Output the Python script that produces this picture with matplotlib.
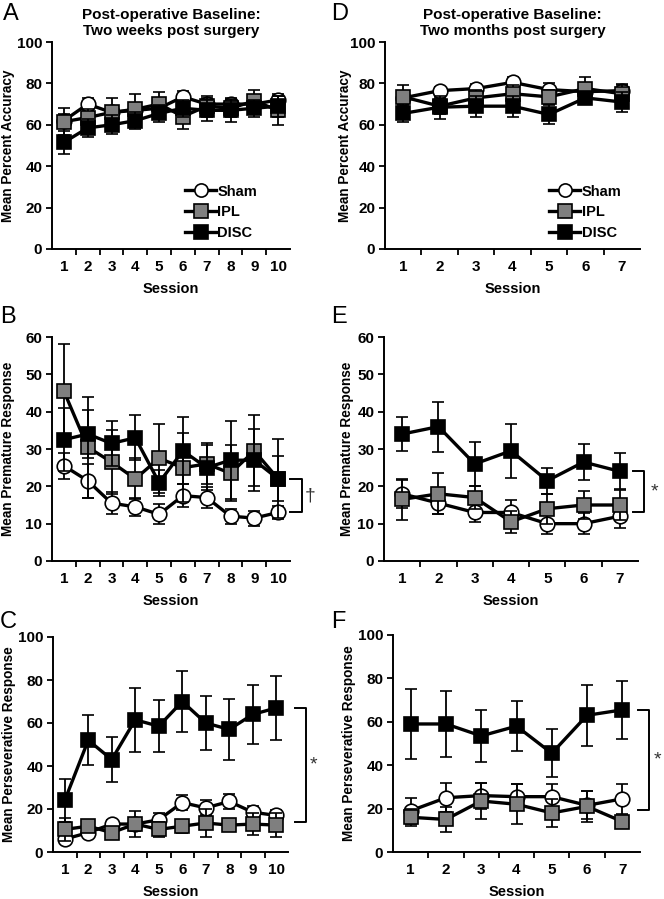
import matplotlib
matplotlib.use("Agg")
import matplotlib.pyplot as plt
from matplotlib.lines import Line2D

plt.rcParams['font.family'] = ['Liberation Sans', 'DejaVu Sans']

# ---------------- data ----------------
groups = ["Sham", "IPL", "DISC"]

# Panel A: accuracy, two weeks (10 sessions)
a_sham = [62, 70, 66, 67, 68, 73.5, 70, 70, 70, 72]
a_sham_err = [3, 3, 3, 3, 3, 3, 3, 3, 3, 3]
a_ipl = [61.5, 63.5, 66, 67.5, 70, 64, 69, 68, 71.5, 67]
a_ipl_err = [6.5, 4, 7, 7.5, 6, 6, 5, 4, 5.5, 7]
a_disc = [51.5, 58.5, 60, 62, 65.5, 68, 67, 67, 68, 69]
a_disc_err = [5.5, 4.5, 4.5, 4, 4, 4, 5, 5.5, 4, 5]

# Panel D: accuracy, two months (7 sessions)
d_sham = [73, 76.5, 77.5, 80.5, 77, 76, 76.5]
d_sham_err = [3, 2, 2, 2.5, 3, 3, 3]
d_ipl = [73.5, 69, 73, 75, 73.5, 77.5, 75]
d_ipl_err = [5.5, 4, 4, 4, 3.5, 5.5, 4]
d_disc = [65.5, 68.5, 69, 69, 65, 73, 71]
d_disc_err = [4, 5.5, 5, 5, 4.5, 3, 5]

# Panel B: premature responses, two weeks
b_sham = [25.5, 21.5, 15.5, 14.5, 12.5, 17.5, 17, 12, 11.5, 13]
b_sham_err = [3.5, 4.5, 3, 2.5, 2.7, 3, 2.8, 2, 2, 1.8]
b_ipl = [45.5, 30.5, 26.5, 22, 27.5, 25, 26, 23.5, 29.5, 22]
b_ipl_err = [12.7, 13.5, 8.5, 5.5, 9.3, 9.3, 5.5, 7.5, 9.5, 6]
b_disc = [32.5, 34, 31.5, 33, 21, 29.5, 25, 27, 27, 22]
b_disc_err = [8.5, 6.5, 6, 6, 3.5, 9, 6, 10.5, 8.3, 10.6]

# Panel E: premature responses, two months
e_sham = [18, 15.5, 13, 13, 10, 10, 12]
e_sham_err = [3.8, 3, 2.5, 3.3, 2.7, 2.8, 3.2]
e_ipl = [16.5, 18, 17, 10.5, 14, 15, 15]
e_ipl_err = [5.5, 5.5, 3, 3, 4, 3.7, 4]
e_disc = [34, 36, 26, 29.5, 21.5, 26.5, 24]
e_disc_err = [4.5, 6.7, 6, 7.2, 3.5, 4.8, 4.8]

# Panel C: perseverative responses, two weeks
c_sham = [6, 9, 13, 13, 15, 23, 20.5, 23.5, 18.5, 17]
c_sham_err = [2, 2, 2, 3, 3, 3.6, 3.5, 3.5, 3, 2.5]
c_ipl = [10.5, 12, 9, 13, 10.5, 12, 13.5, 12.5, 13, 12.5]
c_ipl_err = [5.5, 2, 2, 6, 3.6, 3, 6.5, 2, 5, 5.6]
c_disc = [24, 52, 43, 61.5, 58.5, 70, 60, 57, 64, 67]
c_disc_err = [10, 11.7, 10.4, 14.8, 12.2, 14.4, 12.6, 14, 13.7, 14.9]

# Panel F: perseverative responses, two months
f_sham = [19, 25, 26, 25.5, 25.5, 21.5, 24.5]
f_sham_err = [6, 6.6, 6, 6, 6, 6.5, 7]
f_ipl = [16, 15, 23.5, 22, 18, 21, 14]
f_ipl_err = [4, 5.7, 8.4, 9.2, 6.5, 7, 2]
f_disc = [59, 59, 53.5, 58, 45.5, 63, 65.5]
f_disc_err = [16.3, 15.3, 12, 11.4, 11, 14, 13.5]

titles = ["Post-operative Baseline:\nTwo weeks post surgery",
          "Post-operative Baseline:\nTwo months post surgery"]
ylabels = ["Mean Percent Accuracy", "Mean Premature Response",
           "Mean Perseverative Response"]

# ---------------- figure ----------------
W, H = 664, 899
fig = plt.figure(figsize=(W / 100, H / 100), dpi=100)


def px_axes(l, r, t, b):
    ax = fig.add_axes([l / W, 1 - b / H, (r - l) / W, (b - t) / H])
    ax._px = (l, r)
    return ax


styles = {
    "Sham": dict(marker="o", mfc="white"),
    "IPL": dict(marker="s", mfc="#7f7f7f"),
    "DISC": dict(marker="s", mfc="black"),
}


def draw(ax, series, ymax, ystep, ylabel, letter, ylab_px, title=None,
         legend=None, bracket=None, sym=None):
    n = len(series[0][0])
    x = list(range(1, n + 1))
    for z, (name, (vals, errs)) in enumerate(zip(groups, series)):
        st = styles[name]
        ax.errorbar(x, vals, yerr=errs, color="black", lw=2.4,
                    marker=st["marker"], mfc=st["mfc"], mec="black",
                    mew=1.2, ms=10.5, elinewidth=1.3, capsize=4.5,
                    capthick=1.3, ecolor="black", zorder=2 + z, label=name,
                    clip_on=False)
    ax.set_xlim(0.5, n + 0.5)
    ax.set_ylim(0, ymax)
    ax.set_yticks(range(0, ymax + 1, ystep))
    ax.set_xticks(x)
    ax.set_xticks([i + 0.5 for i in range(1, n)], minor=True)
    ax.tick_params(axis="x", which="major", length=0, pad=8)
    ax.tick_params(axis="x", which="minor", length=4, width=1.3,
                   direction="out")
    ax.tick_params(axis="y", length=4, width=1.3, direction="out", pad=3)
    for lab in ax.get_xticklabels() + ax.get_yticklabels():
        lab.set_fontweight("bold")
        lab.set_fontsize(11)
    for s in ["top", "right"]:
        ax.spines[s].set_visible(False)
    for s in ["left", "bottom"]:
        ax.spines[s].set_linewidth(1.4)
    ax.set_xlabel("Session", fontsize=10.5, fontweight="bold", labelpad=6)
    ax.set_ylabel(ylabel, fontsize=9.8, fontweight="bold")
    l, r = ax._px
    ax.yaxis.set_label_coords((ylab_px - l) / (r - l), 0.5)
    ax.yaxis.label.set_verticalalignment("center")
    ax.text(letter[1], letter[2], letter[0], transform=fig.transFigure,
            fontsize=17, ha="left", va="top")
    if title:
        ax.set_title(title, fontsize=11, fontweight="bold", pad=5,
                     linespacing=1.15)
    if legend:
        handles = []
        for name in groups:
            st = styles[name]
            handles.append(Line2D([0], [0], color="black", lw=2.4,
                                  marker=st["marker"], mfc=st["mfc"],
                                  mec="black", mew=1.2, ms=9.5))
        ax.legend(handles, groups, loc="lower left",
                  bbox_to_anchor=legend, frameon=False,
                  handlelength=2.1, handletextpad=0.1,
                  labelspacing=0.45, borderpad=0, borderaxespad=0,
                  prop=dict(weight="bold", size=10.5))
    if bracket:
        x0, x1, y0, y1, xs = bracket
        tr = ax.get_yaxis_transform()
        ax.plot([x0, x1, x1, x0], [y0, y0, y1, y1], color="black", lw=1.4,
                transform=tr, clip_on=False)
        ax.text(xs, (y0 + y1) / 2, sym, transform=tr, fontsize=14,
                ha="center", va="center", color="#333333")


axA = px_axes(52, 290, 42, 249)
axD = px_axes(385, 640, 42, 249)
axB = px_axes(52, 290, 337, 561)
axE = px_axes(384, 638, 337, 561)
axC = px_axes(53, 288, 637, 852)
axF = px_axes(393, 640, 635, 852)

draw(axA, [(a_sham, a_sham_err), (a_ipl, a_ipl_err), (a_disc, a_disc_err)],
     100, 20, ylabels[0], ("A", 3 / W, 1 - 3 / H), 8, title=titles[0],
     legend=(0.56, 0.045))
draw(axD, [(d_sham, d_sham_err), (d_ipl, d_ipl_err), (d_disc, d_disc_err)],
     100, 20, ylabels[0], ("D", 331 / W, 1 - 3 / H), 345.5, title=titles[1],
     legend=(0.645, 0.045))
draw(axB, [(b_sham, b_sham_err), (b_ipl, b_ipl_err), (b_disc, b_disc_err)],
     60, 10, ylabels[1], ("B", 0 / W, 1 - 306 / H), 8,
     bracket=(1.0, 1.05, 22, 13, 1.085), sym="\u2020")
draw(axE, [(e_sham, e_sham_err), (e_ipl, e_ipl_err), (e_disc, e_disc_err)],
     60, 10, ylabels[1], ("E", 331 / W, 1 - 306 / H), 347,
     bracket=(0.98, 1.024, 24, 13, 1.065), sym="*")
draw(axC, [(c_sham, c_sham_err), (c_ipl, c_ipl_err), (c_disc, c_disc_err)],
     100, 20, ylabels[2], ("C", 0 / W, 1 - 611 / H), 9,
     bracket=(1.03, 1.077, 67, 14, 1.11), sym="*")
draw(axF, [(f_sham, f_sham_err), (f_ipl, f_ipl_err), (f_disc, f_disc_err)],
     100, 20, ylabels[2], ("F", 331 / W, 1 - 611 / H), 349,
     bracket=(0.99, 1.036, 65.5, 19.5, 1.07), sym="*")

fig.savefig("out.png", dpi=100)
